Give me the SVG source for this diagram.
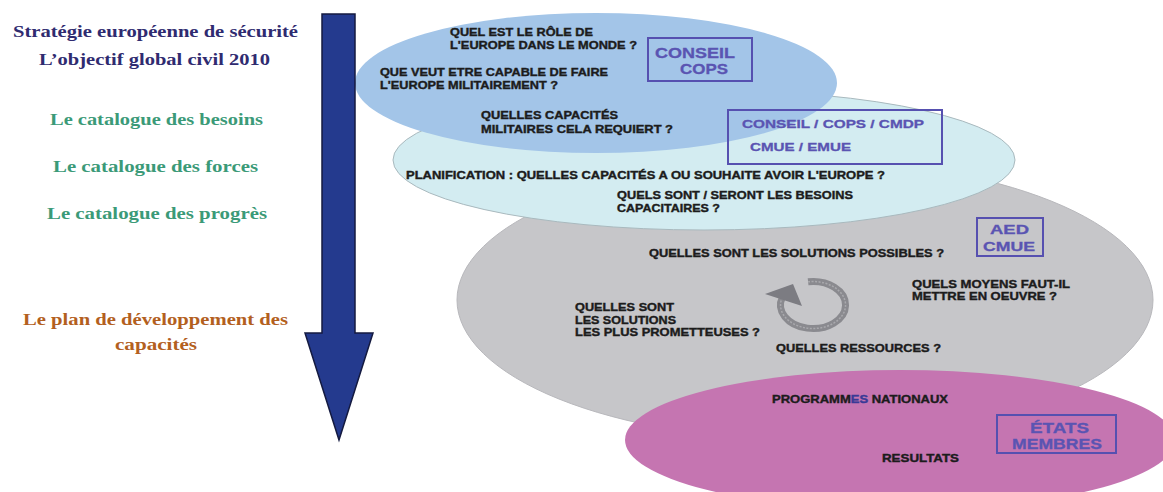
<svg xmlns="http://www.w3.org/2000/svg" width="1163" height="492" viewBox="0 0 1163 492">
<style>
.serif{font-family:"Liberation Serif","Times New Roman",serif;font-weight:bold;font-size:16.5px}
.navy{fill:#2f2b70}
.green{fill:#3b9a78}
.orange{fill:#b3601e}
.q{font-family:"Liberation Sans",Arial,sans-serif;font-weight:bold;font-size:10px;fill:#1c1c1c;stroke:#1c1c1c;stroke-width:0.35}
.box{fill:none;stroke:#5650b0;stroke-width:2}
.bt{font-family:"Liberation Sans",Arial,sans-serif;font-weight:bold;fill:#5a54b2;stroke:#5a54b2;stroke-width:0.3}
</style>
<rect width="1163" height="492" fill="#ffffff"/>

<g id="ellipses">
  <ellipse id="e-gris" cx="805" cy="300" rx="348" ry="140" fill="#c6c6c9" stroke="#b8b8bc" stroke-width="1"/>
  <ellipse id="e-rose" cx="900" cy="440" rx="275" ry="70" fill="#c575b1"/>
  <ellipse id="e-cyan" cx="704" cy="160" rx="311" ry="70" fill="#d3ecf1" stroke="#a9b9be" stroke-width="1"/>
  <ellipse id="e-bleu" cx="596" cy="83" rx="241" ry="70" fill="#a3c5e8"/>
</g>

<g id="connectors">
  <polygon points="322,14 355,14 355,333 373,333 339,440 305,333 322,333" fill="#243a8e" stroke="#141a40" stroke-width="1.5" stroke-linejoin="miter"/>
</g>

<g id="legende">
  <text class="serif navy" x="13" y="37" textLength="285" lengthAdjust="spacingAndGlyphs">Stratégie européenne de sécurité</text>
  <text class="serif navy" x="39" y="65" textLength="231" lengthAdjust="spacingAndGlyphs">L’objectif global civil 2010</text>
  <text class="serif green" x="50" y="125" textLength="213" lengthAdjust="spacingAndGlyphs">Le catalogue des besoins</text>
  <text class="serif green" x="53" y="172" textLength="205" lengthAdjust="spacingAndGlyphs">Le catalogue des forces</text>
  <text class="serif green" x="47" y="219" textLength="220" lengthAdjust="spacingAndGlyphs">Le catalogue des progrès</text>
  <text class="serif orange" x="23" y="325" textLength="265" lengthAdjust="spacingAndGlyphs">Le plan de développement des</text>
  <text class="serif orange" x="115" y="350" textLength="82" lengthAdjust="spacingAndGlyphs">capacités</text>
</g>

<g id="node-conseil-cops">
  <text class="q" x="450" y="36" textLength="143" lengthAdjust="spacingAndGlyphs">QUEL EST LE RÔLE DE</text>
  <text class="q" x="450" y="49" textLength="187" lengthAdjust="spacingAndGlyphs">L'EUROPE DANS LE MONDE ?</text>
  <text class="q" x="380" y="76" textLength="228" lengthAdjust="spacingAndGlyphs">QUE VEUT ETRE CAPABLE DE FAIRE</text>
  <text class="q" x="380" y="89" textLength="178" lengthAdjust="spacingAndGlyphs">L'EUROPE MILITAIREMENT ?</text>
  <text class="q" x="481" y="119" textLength="137" lengthAdjust="spacingAndGlyphs">QUELLES CAPACITÉS</text>
  <text class="q" x="481" y="133" textLength="192" lengthAdjust="spacingAndGlyphs">MILITAIRES CELA REQUIERT ?</text>
  <rect class="box" x="648" y="38" width="104" height="43"/>
  <text class="bt" x="655" y="58" font-size="15" textLength="80" lengthAdjust="spacingAndGlyphs">CONSEIL</text>
  <text class="bt" x="680" y="74" font-size="15" textLength="48" lengthAdjust="spacingAndGlyphs">COPS</text>
</g>

<g id="node-conseil-cops-cmdp">
  <rect class="box" x="728" y="110" width="214" height="54"/>
  <text class="bt" x="742" y="128" font-size="11.5" textLength="182" lengthAdjust="spacingAndGlyphs">CONSEIL / COPS / CMDP</text>
  <text class="bt" x="750" y="151" font-size="11.5" textLength="101" lengthAdjust="spacingAndGlyphs">CMUE / EMUE</text>
  <text class="q" x="406" y="179" textLength="479" lengthAdjust="spacingAndGlyphs">PLANIFICATION : QUELLES CAPACITÉS A OU SOUHAITE AVOIR L'EUROPE ?</text>
  <text class="q" x="617" y="199" textLength="236" lengthAdjust="spacingAndGlyphs">QUELS SONT / SERONT LES BESOINS</text>
  <text class="q" x="617" y="212" textLength="103" lengthAdjust="spacingAndGlyphs">CAPACITAIRES ?</text>
</g>

<g id="node-aed-cmue">
  <rect class="box" x="977" y="218" width="66" height="38"/>
  <text class="bt" x="990" y="234" font-size="13" textLength="39" lengthAdjust="spacingAndGlyphs">AED</text>
  <text class="bt" x="983" y="251" font-size="13" textLength="52" lengthAdjust="spacingAndGlyphs">CMUE</text>
  <text class="q" x="649" y="257" textLength="295" lengthAdjust="spacingAndGlyphs">QUELLES SONT LES SOLUTIONS POSSIBLES ?</text>
  <text class="q" x="912" y="288" textLength="158" lengthAdjust="spacingAndGlyphs">QUELS MOYENS FAUT-IL</text>
  <text class="q" x="912" y="300" textLength="145" lengthAdjust="spacingAndGlyphs">METTRE EN OEUVRE ?</text>
  <text class="q" x="575" y="311" textLength="99" lengthAdjust="spacingAndGlyphs">QUELLES SONT</text>
  <text class="q" x="575" y="324" textLength="101" lengthAdjust="spacingAndGlyphs">LES SOLUTIONS</text>
  <text class="q" x="575" y="336" textLength="185" lengthAdjust="spacingAndGlyphs">LES PLUS PROMETTEUSES ?</text>
  <text class="q" x="776" y="352" textLength="165" lengthAdjust="spacingAndGlyphs">QUELLES RESSOURCES ?</text>
  <g id="cycle">
    <path d="M808.1,281.8 A32.5,23.5 0 1 1 782.5,297" fill="none" stroke="#8a8a8f" stroke-width="7"/>
    <path d="M808.1,281.8 A32.5,23.5 0 1 1 782.5,297" fill="none" stroke="#a9a9ad" stroke-width="1.5" stroke-dasharray="2 1.5"/>
    <polygon points="765,294 793,284 802,306" fill="#7c7c82"/>
  </g>
</g>

<g id="node-etats-membres">
  <text class="q" x="772" y="403" textLength="176" lengthAdjust="spacingAndGlyphs">PROGRAMM<tspan fill="#3a3a96" stroke="#3a3a96">ES</tspan> NATIONAUX</text>
  <text class="q" x="882" y="462" textLength="77" lengthAdjust="spacingAndGlyphs">RESULTATS</text>
  <rect class="box" x="997" y="415" width="119" height="38"/>
  <text class="bt" x="1030" y="433" font-size="15" textLength="59" lengthAdjust="spacingAndGlyphs">ÉTATS</text>
  <text class="bt" x="1012" y="449" font-size="15" textLength="90" lengthAdjust="spacingAndGlyphs">MEMBRES</text>
</g>
</svg>
